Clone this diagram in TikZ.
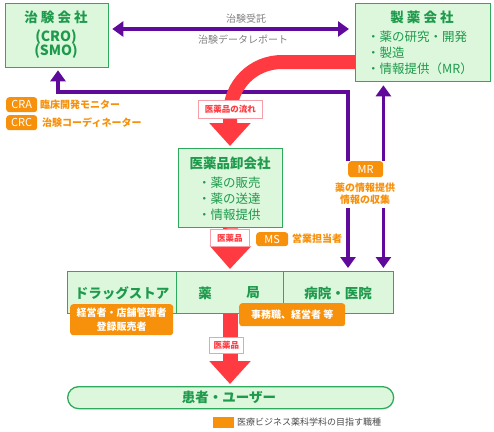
\documentclass[tikz,border=0pt]{standalone}
\usepackage{fontspec}
\setmainfont{Noto Sans CJK JP}
\usetikzlibrary{arrows.meta}
\definecolor{gborder}{HTML}{2EAA5C}
\definecolor{gfill}{HTML}{DDF7DC}
\definecolor{gtext}{HTML}{1E9A4C}
\definecolor{orng}{HTML}{F7900A}
\definecolor{redc}{HTML}{FF3A40}
\definecolor{pinkb}{HTML}{F5A0A8}
\definecolor{purp}{HTML}{600A9C}
\definecolor{graytxt}{HTML}{808080}
\pgfdeclarelayer{bg}
\pgfsetlayers{bg,main}
\begin{document}
\begin{tikzpicture}[x=1pt,y=-1pt,
  gbox/.style={draw=gborder, fill=gfill, line width=1.3pt, inner sep=0pt, anchor=north west},
  gtitle/.style={text=gtext, font=\fontsize{13.5}{15}\selectfont\bfseries, inner sep=0pt},
  gbody/.style={text=gtext, font=\fontsize{12.5}{14}\selectfont, inner sep=0pt},
  otag/.style={fill=orng, text=white, rounded corners=3pt, inner sep=0pt, anchor=north west, font=\fontsize{11}{12}\selectfont},
  otext/.style={text=orng, font=\fontsize{10}{12}\selectfont\bfseries, inner sep=0pt},
  ptag/.style={draw=pinkb, fill=white, text=redc, line width=0.8pt, inner sep=0pt, anchor=north west, font=\fontsize{8.5}{10}\selectfont\bfseries},
  gtxt/.style={text=graytxt, font=\fontsize{10}{12}\selectfont, inner sep=0pt},
  parr/.style={draw=purp, line width=3.5pt},
  ptip/.tip={Triangle[width=15pt,length=11pt]},
  redarr/.style={draw=redc, line width=14pt, -{Triangle[width=40pt,length=23pt]}}
]
\useasboundingbox (0,0) rectangle (494,431);

% main boxes
\node[gbox, minimum width=103pt, minimum height=64pt] (cro) at (5,3) {};
\node[gtitle] (crot) at (56,17) {治 験 会 社};
\node[gtitle, font=\fontsize{14}{16}\selectfont\bfseries] (crol) at (56,45) {\begin{tabular}{@{}c@{}}(CRO)\\[-2pt](SMO)\end{tabular}};

\node[gbox, minimum width=135pt, minimum height=78pt] (pharma) at (355,3) {};
\node[gtitle] (pharmat) at (422,17) {製 薬 会 社};
\node[gbody, anchor=west] (ph1) at (367,37) {・薬の研究・開発};
\node[gbody, anchor=west] (ph2) at (367,53) {・製造};
\node[gbody, anchor=west] (ph3) at (367,69) {・情報提供（MR）};

\node[gbox, minimum width=104pt, minimum height=79pt] (whole) at (178,148) {};
\node[gtitle] (wholet) at (230,163) {医薬品卸会社};
\node[gbody, anchor=west] (wh1) at (198,183) {・薬の販売};
\node[gbody, anchor=west] (wh2) at (198,199) {・薬の送達};
\node[gbody, anchor=west] (wh3) at (198,215) {・情報提供};

\node[gbox, minimum width=326pt, minimum height=42pt] (row) at (67,271) {};
\draw[draw=gborder, line width=0.8pt] (176,271) -- (176,313) (283,271) -- (283,313);
\node[gtitle] (drug) at (122,293) {ドラッグストア};
\node[gtitle] (yaku) at (205,293) {薬};
\node[gtitle] (kyoku) at (253,293) {局};
\node[gtitle] (hosp) at (338,293) {病院・医院};

\node[gbox, minimum width=326pt, minimum height=22pt, rounded corners=11pt] (patient) at (67,386) {};
\node[gtitle] (patt) at (229,397) {患者・ユーザー};

% purple connectors
\coordinate (y29) at (0,29);
\coordinate (c1) at (58,92);
\draw[parr, {ptip}-{ptip}, shorten <=3pt, shorten >=6pt] (cro.east |- y29) -- (pharma.west |- y29);
\node[gtxt] (juta) at (246,19) {治験受託};
\node[gtxt] (report) at (243,40) {治験データレポート};

\node[otag, minimum width=35pt, minimum height=16pt] (mr) at (348,161) {MR};
\node[otext, align=center] (mrtxt) at (365,193.5) {薬の情報提供\\情報の収集};

\begin{pgfonlayer}{bg}
\draw[parr, -{ptip}, shorten >=2pt] (mr.north west) |- (c1) -- (c1 |- cro.south);
\draw[parr, -{ptip}, shorten >=3pt] (mr.north east) -- (mr.north east |- pharma.south);
\end{pgfonlayer}
\draw[parr, -{ptip}, shorten >=3pt] (mr.west |- 0,208) -- (mr.west |- row.north);
\draw[parr, -{ptip}, shorten >=3pt] (mr.east |- 0,208) -- (mr.east |- row.north);

% red flow arrows
\draw[redarr] (pharma.west |- 0,62) -- (282,62) .. controls (253,62) and (230,85) .. (230,114) -- (230,146);
\node[ptag, minimum width=64pt, minimum height=18pt] (flow) at (198,100) {医薬品の流れ};

\draw[redarr, line width=15pt] (whole.south) -- (230,269);
\node[ptag, minimum width=39pt, minimum height=17pt] (iy1) at (210,229) {医薬品};

\draw[redarr, line width=15pt] (row.south -| 230,0) -- (230,384);
\node[ptag, minimum width=34pt, minimum height=16pt] (iy2) at (209,337) {医薬品};

% orange tags
\node[otag, minimum width=31pt, minimum height=15pt] (cra) at (6,97) {CRA};
\node[otext, anchor=west] (crat) at (40,105) {臨床開発モニター};
\node[otag, minimum width=31pt, minimum height=15pt] (crc) at (6,115) {CRC};
\node[otext, anchor=west] (crct) at (42,123) {治験コーディネーター};

\node[otag, minimum width=32pt, minimum height=14pt] (ms) at (256,232) {MS};
\node[otext, anchor=west] (mst) at (292,239) {営業担当者};

\node[otag, minimum width=103pt, minimum height=31pt, align=center, font=\fontsize{10}{13.5}\selectfont\bfseries] (mgr) at (70,304) {経営者・店舗管理者\\登録販売者};
\node[otag, minimum width=106pt, minimum height=23pt, font=\fontsize{10}{12}\selectfont\bfseries] (office) at (239,303) {事務職、経営者 等};

% legend
\fill[orng] (213,417) rectangle (234,428);
\node[gtxt, text=black!70, anchor=west, font=\fontsize{9}{11}\selectfont] (legend) at (237,422.5) {医療ビジネス薬科学科の目指す職種};
\end{tikzpicture}
\end{document}
